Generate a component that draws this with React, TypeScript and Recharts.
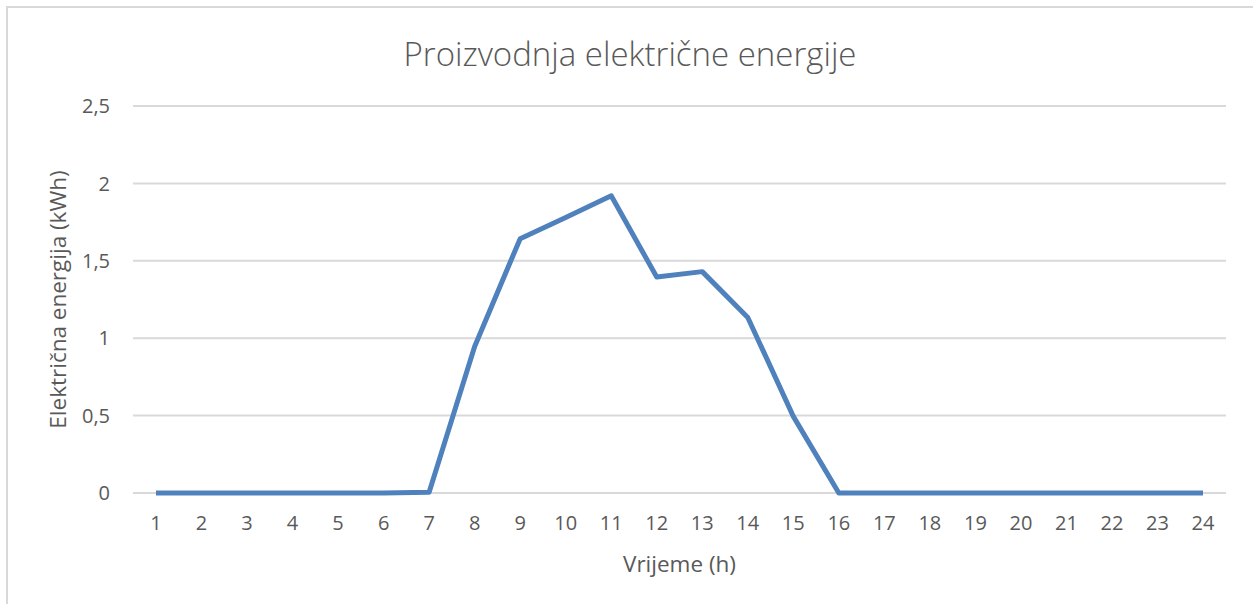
import React from "react";
import {
  LineChart,
  Line,
  XAxis,
  YAxis,
  CartesianGrid,
  Label,
} from "recharts";

const hours = [
  "1", "2", "3", "4", "5", "6", "7", "8", "9", "10", "11", "12",
  "13", "14", "15", "16", "17", "18", "19", "20", "21", "22", "23", "24",
];
// kWh produced per hour
const energy = [
  0, 0, 0, 0, 0, 0, 0.005, 0.947, 1.643, 1.78, 1.92, 1.395,
  1.43, 1.134, 0.495, 0, 0, 0, 0, 0, 0, 0, 0, 0,
];
const yTicks = [0, 0.5, 1, 1.5, 2, 2.5];

const title = "Proizvodnja električne energije";
const xTitle = "Vrijeme (h)";
const yTitle = "Električna energija (kWh)";

const textColor = "#595959";
const gridColor = "#d9d9d9";
const lineColor = "#4f81bd";
const font = "'Open Sans', Lato, sans-serif";

export default function App() {
  const data = hours.map((h, i) => ({ hour: h, value: energy[i] }));
  return (
    <div
      style={{
        position: "fixed",
        left: 0,
        top: 0,
        width: 1253,
        height: 604,
        overflow: "hidden",
        background: "#fff",
        fontFamily: font,
      }}
    >
      <div
        style={{
          position: "absolute",
          left: 6,
          top: 6,
          width: 1300,
          height: 700,
          border: `2px solid ${gridColor}`,
        }}
      />
      <div
        style={{
          position: "absolute",
          left: 0,
          top: 32,
          width: 1260,
          textAlign: "center",
          fontSize: 33,
          fontWeight: 300,
          color: textColor,
          lineHeight: "44px",
        }}
      >
        {title}
      </div>
      <div style={{ position: "absolute", left: 0, top: 0 }}>
        <LineChart
          width={1253}
          height={604}
          data={data}
          margin={{ top: 106, right: 27, bottom: 31, left: 30 }}
        >
          <CartesianGrid horizontal vertical={false} stroke={gridColor} strokeWidth={2} />
          <XAxis
            dataKey="hour"
            height={80}
            padding={{ left: 23, right: 23 }}
            axisLine={false}
            tickLine={false}
            tickMargin={17}
            tick={{ fill: textColor, fontSize: 20, fontFamily: font }}
            interval={0}
          >
            <Label
              value={xTitle}
              position="insideBottom"
              offset={1}
              style={{ fill: textColor, fontSize: 22.5, fontFamily: font }}
            />
          </XAxis>
          <YAxis
            width={103}
            domain={[0, 2.5]}
            ticks={yTicks}
            axisLine={false}
            tickLine={false}
            tickMargin={17}
            tickFormatter={(v: number) => String(v).replace(".", ",")}
            tick={{ fill: textColor, fontSize: 20, fontFamily: font }}
          >
            <Label
              value={yTitle}
              angle={-90}
              position="insideLeft"
              offset={28}
              style={{ fill: textColor, fontSize: 22.5, fontFamily: font, textAnchor: "middle" }}
            />
          </YAxis>
          <Line
            type="linear"
            dataKey="value"
            stroke={lineColor}
            strokeWidth={5}
            strokeLinejoin="round"
            dot={false}
            activeDot={false}
            isAnimationActive={false}
          />
        </LineChart>
      </div>
    </div>
  );
}
